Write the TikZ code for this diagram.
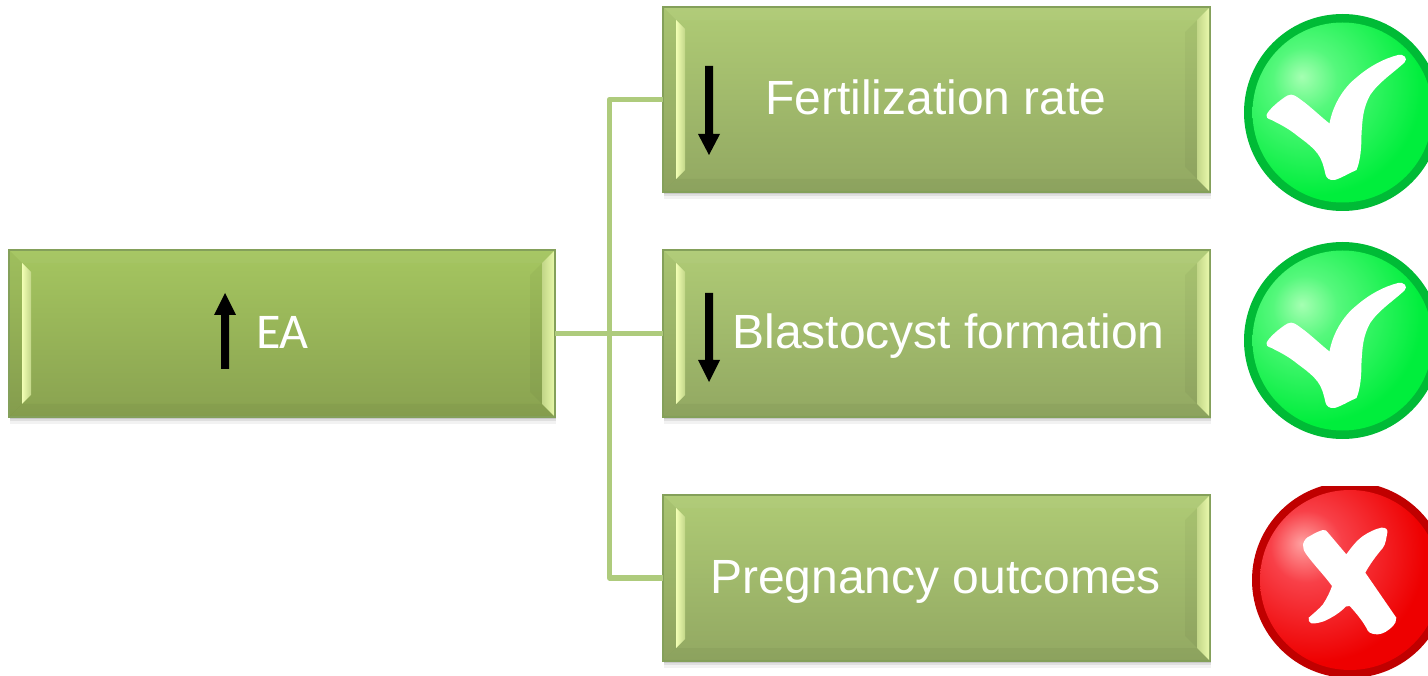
\documentclass[tikz,border=0pt]{standalone}
\usepackage{fontspec}
\setmainfont{Liberation Sans}
\newfontfamily\eafont{Carlito}
\definecolor{linkgreen}{HTML}{AECB7C}
\definecolor{edgegreen}{HTML}{84A05A}
\definecolor{bevlight}{HTML}{F2FFB4}
\definecolor{bevmid}{HTML}{C2D688}
\definecolor{eatop}{HTML}{A5C660}
\definecolor{eabot}{HTML}{89A250}
\definecolor{boxtop}{HTML}{AFCB75}
\definecolor{boxbot}{HTML}{92A862}
\definecolor{okring}{HTML}{00BB36}
\definecolor{noring}{HTML}{C00000}
\definecolor{okA}{HTML}{A5FFB2}
\definecolor{okB}{HTML}{55F87C}
\definecolor{okC}{HTML}{00EE3C}
\definecolor{noA}{HTML}{FFA0A0}
\definecolor{noB}{HTML}{F84048}
\definecolor{noC}{HTML}{EE0000}
\pgfdeclareradialshading{okball}{\pgfpoint{-11.4bp}{10bp}}{
  color(0bp)=(okA);
  color(9bp)=(okB);
  color(30bp)=(okC);
  color(100bp)=(okC)}
\pgfdeclareradialshading{noball}{\pgfpoint{-13.5bp}{10.3bp}}{
  color(0bp)=(noA);
  color(10bp)=(noB);
  color(30bp)=(noC);
  color(100bp)=(noC)}
\tikzset{
  x=1pt,y=-1pt,
  linkline/.style={draw=linkgreen,line width=5.4pt,line join=round},
  boxlabel/.style={text=white,inner sep=0pt,anchor=base,font=\fontsize{48}{52}\selectfont},
  blockarrow/.style={fill=black,draw=none},
}
% left, top, right, bottom, name, top colour, bottom colour
\newcommand{\bevbox}[7]{
  \fill[black,opacity=.05] (#1+1,#4) rectangle (#3+1,#4+7);
  \fill[black,opacity=.08] (#1+1,#4) rectangle (#3+1,#4+4);
  \fill[black,opacity=.10] (#1+1,#4) rectangle (#3+1,#4+2);
  \node[inner sep=0pt,outer sep=0pt,minimum width=#3pt-#1pt,minimum height=#4pt-#2pt,anchor=north west,
        top color=#6,bottom color=#7,draw=edgegreen,line width=1.5pt] (#5) at (#1,#2) {};
  \fill[white,opacity=.03] (#1+1,#2+1) -- (#3-1,#2+1) -- (#3-13,#2+13) -- (#1+13,#2+13) -- cycle;
  \fill[black,opacity=.035] (#1+1,#4-1) -- (#3-1,#4-1) -- (#3-13,#4-13) -- (#1+13,#4-13) -- cycle;
  \fill[black,opacity=.03] (#1+1,#2+1) -- (#1+13,#2+13) -- (#1+13,#4-13) -- (#1+1,#4-1) -- cycle;
  \fill[black,opacity=.035] (#3-13,#2+13) -- (#3-25,#2+25) -- (#3-25,#4-25) -- (#3-13,#4-13) -- cycle;
  \shade[left color=bevlight,middle color=bevlight,right color=bevmid]
    (#1+13,#2+13) -- (#1+22,#2+22) -- (#1+22,#4-22) -- (#1+13,#4-13) -- cycle;
  \shade[left color=bevmid,middle color=bevlight,right color=bevlight!85!#6]
    (#3-13,#2+13) -- (#3-1,#2+1) -- (#3-1,#4-1) -- (#3-13,#4-13) -- cycle;
}
% centre x, centre y, name
\newcommand{\okmark}[3]{
  \coordinate (#3) at (#1,#2);
  \begin{scope}[shift={(#3)}]
    \fill[okring] (0,0) circle[radius=98.5];
    \shade[shading=okball] (0,0) circle[radius=90];
    \fill[white] (-76,2.5) .. controls (-74,-3) and (-62,-13) .. (-55,-17)
      .. controls (-50,-19.5) and (-46,-16) .. (-42,-13)
      .. controls (-32,-6) and (-22,4) .. (-13,11)
      .. controls (-10,-6) and (0,-24) .. (14,-35)
      .. controls (28,-47) and (42,-54) .. (55.5,-57.5)
      .. controls (61,-59) and (66,-54) .. (62,-50)
      .. controls (50,-39) and (36,-30) .. (28,-18)
      .. controls (20,-4) and (20,8) .. (19,21)
      .. controls (19,35) and (18,48) .. (14,57.5)
      .. controls (6,61) and (-2,66) .. (-8,67.5)
      .. controls (-13,68) and (-16,66) .. (-17,62)
      .. controls (-19,53) and (-21,46) .. (-25,41)
      .. controls (-32,32) and (-42,26) .. (-48,21)
      .. controls (-56,15) and (-64,11) .. (-71,7.5)
      .. controls (-75,6) and (-77,5) .. (-76,2.5) -- cycle;
  \end{scope}
}
\begin{document}
\begin{tikzpicture}
\useasboundingbox (0,0) rectangle (1428,676);
\bevbox{9}{250}{555}{417}{ea}{eatop}{eabot}
\bevbox{663}{7}{1210}{192}{fert}{boxtop}{boxbot}
\bevbox{663}{250}{1210}{417}{blast}{boxtop}{boxbot}
\bevbox{663}{495}{1210}{661}{preg}{boxtop}{boxbot}
% connectors
\coordinate (bus) at (609.5,333.5);
\draw[linkline] (ea.east) -- (blast.west);
\draw[linkline] (fert.west) -| (bus) |- (preg.west);
% labels
\node[boxlabel,font=\eafont\fontsize{50}{54}\selectfont] (ealabel) at (282.5,349) {EA};
\node[boxlabel] (fertlabel) at (936,115) {Fertilization rate};
\node[boxlabel] (blastlabel) at (948.5,349) {Blastocyst formation};
\node[boxlabel] (preglabel) at (935.5,593) {Pregnancy outcomes};
% block arrows
\fill[blockarrow] (221,369) -- (221,315) -- (214,315) -- (225,293) -- (236,315) -- (229,315) -- (229,369) -- cycle;
\fill[blockarrow] (705,66) -- (705,134) -- (698,134) -- (709,155) -- (720,134) -- (713,134) -- (713,66) -- cycle;
\fill[blockarrow] (705,293) -- (705,360) -- (698,360) -- (709,382) -- (720,360) -- (713,360) -- (713,293) -- cycle;
% badges
\begin{scope}
\clip (1230,0) rectangle (1428,676);
\okmark{1342.5}{112.5}{okone}
\okmark{1342.5}{340.5}{oktwo}
\end{scope}
\begin{scope}
\clip (1230,486) rectangle (1428,676);
\coordinate (nomark) at (1350,580);
\begin{scope}[shift={(nomark)}]
  \fill[noring] (0,0) circle[radius=98];
  \shade[shading=noball] (0,0) circle[radius=90];
  \fill[white] (-47,-35.7) .. controls (-46,-40) and (-43,-43) .. (-40,-44)
    .. controls (-35,-47) and (-31,-49) .. (-27,-50)
    .. controls (-24.5,-50.5) and (-23,-49) .. (-22,-47.3)
    -- (-3.7,-25.7) .. controls (1,-32) and (6,-39) .. (13,-44)
    .. controls (19,-48) and (25,-51) .. (31.3,-52.3)
    .. controls (36,-53) and (38,-50) .. (37.3,-47.3)
    .. controls (36,-41) and (36,-37) .. (33,-32.3)
    .. controls (26,-24) and (20,-16) .. (15.3,-7.3)
    -- (46.3,37.7) .. controls (46.5,41) and (45,44) .. (43,46)
    .. controls (38,51) and (33,54) .. (28,54.3)
    .. controls (24,54.5) and (20,53.5) .. (18,51)
    .. controls (13,41) and (6,33) .. (-0.3,26)
    .. controls (-3,25) and (-5,27) .. (-7,29.3)
    .. controls (-12,34) and (-19,38) .. (-25.3,41)
    .. controls (-30,42.5) and (-35,44) .. (-38.7,43.3)
    .. controls (-41,42.5) and (-42,40) .. (-41.3,37.7)
    .. controls (-36,33) and (-31,29) .. (-27,24.3)
    .. controls (-23,18) and (-20,12) .. (-18,6)
    .. controls (-26,-5) and (-36,-15) .. (-43.7,-25.7)
    .. controls (-46,-29) and (-47.5,-32) .. (-47,-35.7) -- cycle;
\end{scope}
\end{scope}
\end{tikzpicture}
\end{document}
